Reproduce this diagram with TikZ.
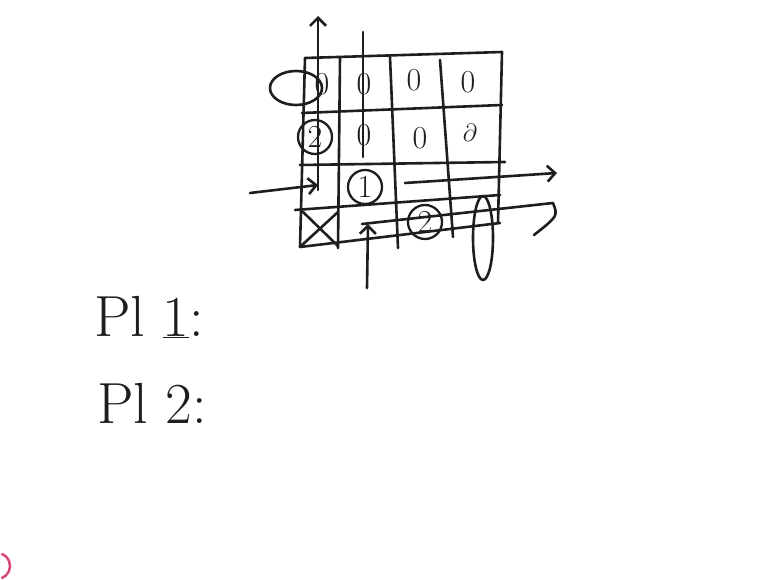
\documentclass[tikz,border=0pt]{standalone}
\usepackage{tikz}
\usetikzlibrary{arrows.meta, positioning}
\definecolor{ink}{HTML}{1E1E1E}
\definecolor{cursor}{HTML}{D9487A}
\begin{document}
\begin{tikzpicture}[x=1pt, y=-1pt,
  pen/.style={draw=ink, line width=2.6pt, line cap=round, line join=round},
  arr/.style={pen, -{Straight Barb[length=8pt, width=16pt]}},
  entry/.style={font=\fontsize{32}{32}\selectfont, text=ink, inner sep=0pt},
  ring/.style={entry, circle, draw=ink, line width=2.3pt, minimum size=34pt},
  lbl/.style={font=\fontsize{58}{58}\selectfont, text=ink, anchor=base west, inner sep=0pt},
]
\useasboundingbox (0,0) rectangle (771,580);
% ---------------- payoff grid
\foreach \xa/\ya/\xb/\yb in {305/58/502/52, 302/113/502/105, 300/165/505/162,
                             295/210/500/195, 300/247/500/223}
  {\draw[pen] (\xa,\ya) -- (\xb,\yb);}
\foreach \xa/\ya/\xb/\yb in {305/58/300/247, 340/57/338/248, 390/57/398/248,
                             440/60/453/237, 502/52/498/223}
  {\draw[pen] (\xa,\ya) -- (\xb,\yb);}
\draw[pen] (303,212) -- (338,246) (338,212) -- (301,246);
% ---------------- entries
\node[entry] (p11) at (322,84) {0};
\node[entry] (p12) at (364,84) {0};
\node[entry] (p13) at (414,80) {0};
\node[entry] (p14) at (468,82) {0};
\node[ring] (p21) at (315,137) {2};
\node[entry] (p22) at (364,135) {0};
\node[entry] (p23) at (420,138) {0};
\node[entry] (p24) at (470,133) {$\partial$};
\node[ring] (p32) at (365,187) {1};
\node[ring] (p43) at (425,222) {2};
\draw[pen] (296,88) ellipse [x radius=26, y radius=17];
\draw[pen] (483,238) ellipse [x radius=10, y radius=42];
% ---------------- strokes and arrows
\coordinate (upA) at (318,190);
\coordinate (upB) at (318,16);
\draw[arr] (upA) -- (upB);
\coordinate (colA) at (363,32);
\coordinate (colB) at (363,157);
\draw[pen] (colA) -- (colB);
\coordinate (leftA) at (250,193);
\coordinate (leftB) at (318,185);
\draw[arr] (leftA) -- (leftB);
\coordinate (rowA) at (405,183);
\coordinate (rowB) at (557,173);
\draw[arr] (rowA) -- (rowB);
\coordinate (botA) at (362,224);
\coordinate (botB) at (553,203);
\coordinate (botC) at (534,235);
\draw[pen] (botA) -- (botB) .. controls (558,216) .. (botC);
\coordinate (inA) at (367,288);
\coordinate (inB) at (368,224);
\draw[arr] (inA) -- (inB);
% ---------------- player labels
\node[lbl] (pl1) at (94,336) {Pl \underline{1}:};
\node[lbl] (pl2) at (97,423) {Pl 2:};
% ---------------- cursor
\draw[cursor, line width=2.5pt] (-3,566) ++(70:13) arc (70:-70:13);
\end{tikzpicture}
\end{document}
